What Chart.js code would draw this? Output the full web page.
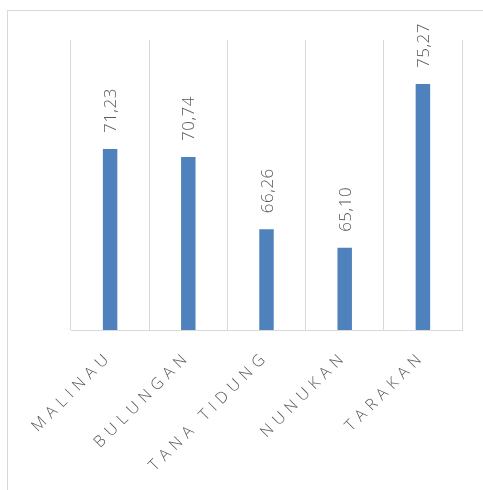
<!DOCTYPE html>
<html>
<head>
<meta charset="utf-8">
<script src="https://cdn.jsdelivr.net/npm/chart.js@4/dist/chart.umd.min.js"></script>
<style>
  html, body { margin: 0; padding: 0; background: #fff; overflow: hidden; }
  #wrap { position: relative; width: 483px; height: 490px; }
  #frame { position: absolute; left: 7px; top: 10px; width: 520px; height: 520px;
           border: 1px solid #d9d9d9; box-sizing: border-box; }
  canvas { position: absolute; left: 0; top: 0; }
</style>
</head>
<body>
<div id="wrap">
  <div id="frame"></div>
  <canvas id="c" width="483" height="490"></canvas>
</div>
<script>
// Kabupaten / kota
const categories = ['MALINAU', 'BULUNGAN', 'TANA TIDUNG', 'NUNUKAN', 'TARAKAN'];
// Nilai per wilayah
const values = [71.23, 70.74, 66.26, 65.10, 75.27];
// Rentang sumbu nilai
const axisMin = 60;
const axisMax = 78;

const labelColor = '#595959';
const barColor = '#4f81bd';
const gridColor = '#d9d9d9';
const fontFamily = '"Open Sans", "Noto Sans", sans-serif';

const fmt = v => v.toFixed(2).replace('.', ',');

// Spaced-out lettering for the category axis
const spacing = {
  id: 'spacing',
  beforeUpdate(chart) { chart.ctx.letterSpacing = '5.5px'; },
  beforeDraw(chart) { chart.ctx.letterSpacing = '5.5px'; }
};

// Vertical value labels above each bar
const valueLabels = {
  id: 'valueLabels',
  afterDatasetsDraw(chart) {
    const ctx = chart.ctx;
    const meta = chart.getDatasetMeta(0);
    const size = 17;
    meta.data.forEach((bar, i) => {
      ctx.save();
      ctx.letterSpacing = '0.5px';
      ctx.font = '300 ' + size + 'px ' + fontFamily;
      ctx.fillStyle = labelColor;
      ctx.translate(bar.x + size * 0.36, bar.y - 16);
      ctx.rotate(-Math.PI / 2);
      ctx.textAlign = 'left';
      ctx.textBaseline = 'alphabetic';
      ctx.fillText(fmt(values[i]), 0, 0);
      ctx.restore();
    });
  }
};

new Chart(document.getElementById('c'), {
  type: 'bar',
  data: {
    labels: categories,
    datasets: [{
      data: values,
      backgroundColor: barColor,
      borderWidth: 0,
      barPercentage: 0.185,
      categoryPercentage: 1
    }]
  },
  options: {
    responsive: false,
    animation: false,
    layout: { padding: { left: 71, right: 21, top: 40, bottom: 0 } },
    plugins: { legend: { display: false }, tooltip: { enabled: false } },
    scales: {
      x: {
        offset: true,
        grid: { offset: true, color: gridColor, lineWidth: 1, drawTicks: false },
        border: { color: gridColor, width: 1 },
        ticks: {
          color: labelColor,
          font: { family: fontFamily, size: 16, weight: '350' },
          minRotation: 45,
          maxRotation: 45,
          padding: 17,
          autoSkip: false
        },
        afterFit(scale) { scale.height = 160; }
      },
      y: {
        display: false,
        min: axisMin,
        max: axisMax
      }
    }
  },
  plugins: [spacing, valueLabels]
});
</script>
</body>
</html>
